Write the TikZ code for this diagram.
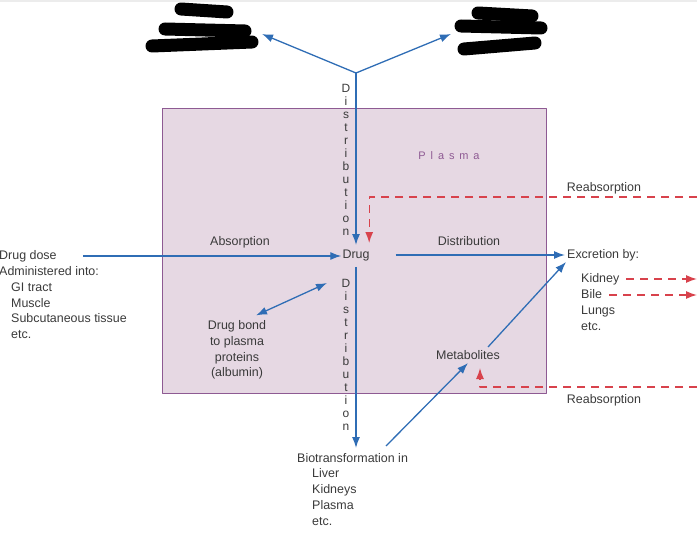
\documentclass[tikz,border=0pt]{standalone}
\usepackage{fontspec}
\setmainfont{Liberation Sans}
\newfontfamily\plasmafont[LetterSpace=45]{Liberation Sans}
\usetikzlibrary{calc,arrows.meta}
\definecolor{flowblue}{HTML}{2F6DB5}
\definecolor{reabred}{HTML}{D8424C}
\definecolor{plasmafill}{HTML}{E6D8E3}
\definecolor{plasmaline}{HTML}{8E5A93}
\definecolor{labelgray}{HTML}{3A3A3A}
\begin{document}
\begin{tikzpicture}[>={Latex[length=11bp,width=8bp]},line join=bevel,x=1bp,y=-1bp,
  lbl/.style={text=labelgray,font=\fontsize{12.5}{15.8}\selectfont,inner sep=1bp},
  line/.style={lbl,text height=9bp,text depth=2.6bp},
  vlbl/.style={text=labelgray,font=\fontsize{12}{13}\selectfont,align=center,inner sep=0bp},
  flow/.style={flowblue,line width=1.3bp,->},
  reab/.style={reabred,line width=1.3bp,dash pattern=on 8bp off 6bp,->},
  blot/.style={black,line width=13bp,line cap=round}]
\useasboundingbox (0,0) rectangle (697,533);
\fill[gray!15] (0,0) rectangle (697,2);
%%
\draw[plasmaline,fill=plasmafill,line width=1bp] (162,109) rectangle (546,393);
\node (node_plasma) at (449,156) [text=plasmaline,font={\plasmafont\fontsize{11}{13}\selectfont}] {Plasma};
%
\node (node_drug) at (356,255) [line] {Drug};
\node (node_dose) at (-2,256) [line,anchor=west] {Drug dose};
\node (node_route) at (-2,265.5) [lbl,anchor=north west,align=left] {Administered into:\\\hspace{12bp}GI tract\\\hspace{12bp}Muscle\\\hspace{12bp}Subcutaneous tissue\\\hspace{12bp}etc.};
\node (node_absorb) at (240,242) [line] {Absorption};
\node (node_disthor) at (469,242) [line] {Distribution};
\node (node_excr) at (566,255) [line,anchor=west] {Excretion by:};
\node (node_kidney) at (580,279) [line,anchor=west] {Kidney};
\node (node_bile) at (580,295) [line,anchor=west] {Bile};
\node (node_lungs) at (580,311) [line,anchor=west] {Lungs};
\node (node_etc) at (580,327) [line,anchor=west] {etc.};
\node (node_reabtop) at (604,188) [line] {Reabsorption};
\node (node_reabbot) at (604,400) [line] {Reabsorption};
\node (node_meta) at (468,356) [line] {Metabolites};
\node (node_bond) at (237,350) [lbl,align=center] {Drug bond\\to plasma\\proteins\\(albumin)};
\node (node_bio) at (296,452) [lbl,anchor=north west,align=left] {Biotransformation in\\\hspace{15bp}Liver\\\hspace{15bp}Kidneys\\\hspace{15bp}Plasma\\\hspace{15bp}etc.};
\node (node_distup) at (346,160) [vlbl] {D\\i\\s\\t\\r\\i\\b\\u\\t\\i\\o\\n};
\node (node_distdown) at (346,355) [vlbl] {D\\i\\s\\t\\r\\i\\b\\u\\t\\i\\o\\n};
%
\coordinate (node_fork) at (356,73);
\coordinate (node_lefttop) at (262,34);
\coordinate (node_righttop) at (451,34);
\coordinate (node_bondend) at (327,283);
\coordinate (node_rtop) at (697,197);
\coordinate (node_rbot) at (697,387);
\coordinate (node_edge) at (697,0);
%
\draw [flow] (node_fork) -- (node_lefttop);
\draw [flow] (node_fork) -- (node_righttop);
\draw [flow,shorten >=3bp] (node_fork) -- (node_drug.north);
\draw [flow,shorten <=5bp,shorten >=4bp] (node_drug.south) -- (node_drug |- node_bio.north);
\draw [flow,shorten <=25bp] (node_dose.east) -- (node_dose.east -| node_drug.west);
\draw [flow,shorten <=25bp,shorten >=1bp] (node_drug.east) -- (node_drug.east -| node_excr.west);
\draw [flow,<->] ($(node_bond.north)+(19,-4)$) -- (node_bondend);
\draw [flow] ($(node_meta.north)+(20,-2)$) -- (node_excr.south west);
\draw [flow] ($(node_bio.north west)+(90,-6)$) -- (node_meta.south);
%
\draw [reab,shorten >=5bp] (node_rtop) -| ($(node_drug.north east)+(-1.5,0)$);
\draw [reab,shorten >=5bp] (node_rbot) -| ($(node_meta.south)+(12,0)$);
\draw [reab,shorten <=6bp] (node_kidney.east) -- (node_kidney.east -| node_edge);
\draw [reab,shorten <=6bp] (node_bile.east) -- (node_bile.east -| node_edge);
%
\draw [blot] (181,9) -- (227,12);
\draw [blot] (165,29) -- (245,31);
\draw [blot] (152,46) -- (252,42);
\draw [blot] (478,13) -- (532,16);
\draw [blot] (461,26) -- (541,28);
\draw [blot] (464,49) -- (535,43);
%
\end{tikzpicture}
\end{document}
